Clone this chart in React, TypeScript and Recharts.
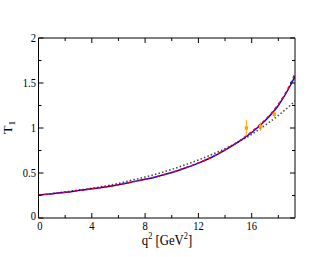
import { ComposedChart, Line, Scatter, ErrorBar, XAxis, YAxis } from 'recharts';

// q^2 grid (GeV^2) and form factor curves
const q2 = [0, 1, 2, 3, 4, 5, 6, 7, 8, 9, 10, 11, 12, 13, 14, 15, 16, 17, 18, 19, 19.25];
const blueFit = [0.255, 0.27, 0.285, 0.305, 0.325, 0.345, 0.37, 0.4, 0.43, 0.465, 0.505, 0.555, 0.61, 0.675, 0.755, 0.845, 0.95, 1.08, 1.25, 1.5, 1.575];
const redFit = [0.255, 0.27, 0.285, 0.305, 0.325, 0.345, 0.37, 0.4, 0.43, 0.465, 0.505, 0.556, 0.612, 0.678, 0.758, 0.85, 0.96, 1.09, 1.265, 1.52, 1.605];
const dottedFit = [0.255, 0.27, 0.29, 0.31, 0.33, 0.355, 0.385, 0.42, 0.455, 0.495, 0.54, 0.59, 0.645, 0.705, 0.77, 0.845, 0.93, 1.03, 1.14, 1.265, 1.3];

// lattice points with errors
const latQ2 = [15.6, 16.68, 17.7];
const latT1 = [1.0, 1.015, 1.152];
const latErr = [0.09, 0.05, 0.037];

const xTicks = [0, 2, 4, 6, 8, 10, 12, 14, 16, 18];
const yTicks = [0, 0.25, 0.5, 0.75, 1, 1.25, 1.5, 1.75, 2];

const curveData = q2.map((q, i) => ({ q, blue: blueFit[i], red: redFit[i], dotted: dottedFit[i] }));
const pointData = latQ2.map((q, i) => ({ q, t: latT1[i], err: latErr[i] }));

const FONT = "'Liberation Serif', 'DejaVu Serif', serif";
const SX = 0.88;

function BottomTick(props: any) {
  const { x, y, payload } = props;
  const v = payload.value;
  const major = v % 4 === 0;
  return (
    <g>
      <line x1={x} x2={x} y1={y} y2={y - (major ? 5 : 3)} stroke="#000" />
      {major && (
        <text transform={`translate(${x + (v === 0 ? 1.5 : 0)},${y + 11.5}) scale(${SX},1)`} textAnchor="middle" fontSize={12} style={{ fontFamily: FONT }} fill="#000">
          {v}
        </text>
      )}
    </g>
  );
}

function TopTick(props: any) {
  const { x, y, payload } = props;
  const major = payload.value % 4 === 0;
  return <line x1={x} x2={x} y1={y} y2={y + (major ? 5 : 3)} stroke="#000" />;
}

function LeftTick(props: any) {
  const { x, y, payload } = props;
  const v = payload.value;
  const major = (v * 2) % 1 === 0;
  return (
    <g>
      <line x1={x} x2={x + (major ? 5 : 3)} y1={y} y2={y} stroke="#000" />
      {major && (
        <text transform={`translate(${x - 2.5},${y + (v === 0 ? 2 : 4)}) scale(${SX},1)`} textAnchor="end" fontSize={12} style={{ fontFamily: FONT }} fill="#000">
          {String(v)}
        </text>
      )}
    </g>
  );
}

function RightTick(props: any) {
  const { x, y, payload } = props;
  const major = (payload.value * 2) % 1 === 0;
  return <line x1={x} x2={x - (major ? 5 : 3)} y1={y} y2={y} stroke="#000" />;
}

function Square(props: any) {
  const { cx, cy } = props;
  return <rect x={cx - 1.7} y={cy - 1.7} width={3.4} height={3.4} fill="#ffa500" />;
}

export default function App() {
  return (
    <div style={{ position: 'absolute', left: 0, top: 0, width: 332, height: 257, background: '#fff' }}>
      <ComposedChart width={332} height={257} data={curveData} margin={{ top: 37, right: 36, bottom: 0, left: 0 }}>
        <XAxis
          dataKey="q"
          type="number"
          domain={[0, 19.25]}
          ticks={xTicks}
          interval={0}
          allowDataOverflow
          height={39}
          tickSize={0}
          tickMargin={0}
          tickLine={false}
          axisLine={{ stroke: '#000' }}
          tick={<BottomTick />}
          label={{
            content: () => (
              <text transform={`translate(167,245) scale(${SX},1)`} textAnchor="middle" fontSize={14.5} style={{ fontFamily: FONT }} fill="#000">
                q<tspan fontSize={9.5} dy={-6}>2</tspan>
                <tspan dy={6}> [GeV</tspan>
                <tspan fontSize={9.5} dy={-6}>2</tspan>
                <tspan dy={6}>]</tspan>
              </text>
            ),
          }}
        />
        <XAxis
          xAxisId="top"
          orientation="top"
          type="number"
          dataKey="q"
          domain={[0, 19.25]}
          ticks={xTicks}
          interval={0}
          allowDataOverflow
          height={1}
          tickSize={0}
          tickMargin={0}
          tickLine={false}
          axisLine={{ stroke: '#000' }}
          tick={<TopTick />}
        />
        <YAxis
          type="number"
          domain={[0, 2]}
          ticks={yTicks}
          interval={0}
          allowDataOverflow
          width={38.5}
          tickSize={0}
          tickMargin={0}
          tickLine={false}
          axisLine={{ stroke: '#000' }}
          tick={<LeftTick />}
          label={{
            content: () => (
              <text transform={`translate(12,134) scale(${SX},1) rotate(-90)`} textAnchor="start" fontSize={14} style={{ fontFamily: FONT }} fill="#000">
                T<tspan fontSize={9.5} dy={3}>1</tspan>
              </text>
            ),
          }}
        />
        <YAxis
          yAxisId="right"
          orientation="right"
          type="number"
          domain={[0, 2]}
          ticks={yTicks}
          interval={0}
          allowDataOverflow
          width={1}
          tickSize={0}
          tickMargin={0}
          tickLine={false}
          axisLine={{ stroke: '#000' }}
          tick={<RightTick />}
        />
        {/* invisible series so the mirrored frame axes get drawn */}
        <Line xAxisId="top" yAxisId="right" dataKey="blue" stroke="none" dot={false} legendType="none" isAnimationActive={false} />
        <Line dataKey="dotted" type="monotone" stroke="#444" strokeWidth={1.5} strokeDasharray="1.5 2.2" dot={false} isAnimationActive={false} />
        <Line dataKey="blue" type="monotone" stroke="#0000ff" strokeWidth={1.5} dot={false} isAnimationActive={false} />
        <Line dataKey="red" type="monotone" stroke="#ff0000" strokeWidth={1.5} strokeDasharray="3 3" dot={false} isAnimationActive={false} />
        <Scatter data={pointData} dataKey="t" shape={<Square />} isAnimationActive={false}>
          <ErrorBar dataKey="err" direction="y" width={0} stroke="#ffa500" strokeWidth={1} />
        </Scatter>
      </ComposedChart>
    </div>
  );
}
